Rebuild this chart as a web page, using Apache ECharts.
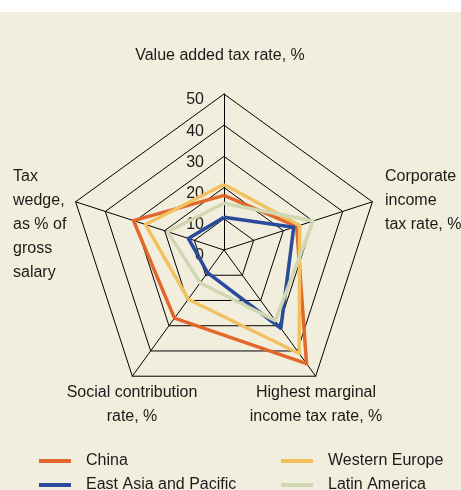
<!DOCTYPE html>
<html>
<head>
<meta charset="utf-8">
<script src="https://cdn.jsdelivr.net/npm/echarts@6/dist/echarts.min.js"></script>
<style>
html, body { margin: 0; padding: 0; background: #fff; }
#container { width: 461px; height: 490px; }
</style>
</head>
<body>
<div id="container"></div>
<script>
// axes go counter-clockwise from the top
var indicatorNames = ['Value added tax rate, %', 'Tax wedge, as % of gross salary', 'Social contribution rate, %', 'Highest marginal income tax rate, %', 'Corporate income tax rate, %'];
var seriesNames = ['China', 'East Asia and Pacific', 'Western Europe', 'Latin America'];
var china = [17.5, 30.5, 27, 45, 24.5];
var eastAsia = [10.5, 12, 9, 31, 23.5];
var westernEurope = [21, 26.5, 19.5, 41, 25.5];
var latinAmerica = [15, 19, 13, 28, 30];
var tickMax = 50;
var tickStep = 10;

var colors = ['#e2672a', '#2a4a9c', '#f2c15f', '#cfd8b2'];
var fontFamily = "'Liberation Sans', Arial, sans-serif";
var fontSize = 16;

var dom = document.getElementById('container');
var myChart = echarts.init(dom);

var values = [china, eastAsia, westernEurope, latinAmerica];

function nameText(x, y, text, align) {
    return {
        type: 'text',
        x: x,
        y: y,
        style: {
            text: text,
            fontFamily: fontFamily,
            fontSize: fontSize,
            lineHeight: 24,
            fill: '#1a1a1a',
            align: align,
            verticalAlign: 'middle'
        }
    };
}

function legendColumn(names, left) {
    return {
        data: names,
        orient: 'vertical',
        left: left,
        top: 451,
        height: 60,
        padding: 0,
        itemGap: 4,
        icon: 'rect',
        itemWidth: 32,
        itemHeight: 4,
        selectedMode: false,
        textStyle: { fontFamily: fontFamily, fontSize: fontSize, color: '#1a1a1a', lineHeight: 20, padding: [0, 0, 0, 10] }
    };
}

var option = {
    backgroundColor: '#f2eedd',
    color: colors,
    graphic: [
        { type: 'rect', shape: { x: 0, y: 0, width: 461, height: 12 }, style: { fill: '#ffffff' }, z: -10 },
        nameText(220, 56, 'Value added tax rate, %', 'center'),
        nameText(385, 201, 'Corporate\nincome\ntax rate, %', 'left'),
        nameText(13, 225, 'Tax\nwedge,\nas % of\ngross\nsalary', 'left'),
        nameText(132, 405, 'Social contribution\nrate, %', 'center'),
        nameText(316, 405, 'Highest marginal\nincome tax rate, %', 'center')
    ],
    legend: [
        legendColumn([seriesNames[0], seriesNames[1]], 39),
        legendColumn([seriesNames[2], seriesNames[3]], 281)
    ],
    radar: {
        center: [224, 250],
        radius: 156,
        startAngle: 90,
        shape: 'polygon',
        splitNumber: tickMax / tickStep,
        indicator: indicatorNames.map(function (n) { return { name: n, min: 0, max: tickMax }; }),
        axisName: { show: false },
        axisLine: { lineStyle: { color: '#000', width: 1 } },
        splitLine: { lineStyle: { color: '#000', width: 1 } },
        splitArea: { show: false },
        axisTick: { show: false },
        axisLabel: { show: false }
    },
    // plain value axis along the top spoke, only for its tick labels
    grid: { left: 224, top: 94, width: 10, height: 156 },
    xAxis: { type: 'value', show: false },
    yAxis: {
        type: 'value',
        min: 0,
        max: tickMax,
        interval: tickStep,
        axisLine: { show: false },
        axisTick: { show: false },
        splitLine: { show: false },
        axisLabel: { margin: 20, fontFamily: fontFamily, fontSize: fontSize, color: '#1a1a1a', verticalAlign: 'top', lineHeight: 12 }
    },
    series: [
        {
            type: 'radar',
            symbol: 'none',
            data: values.map(function (v, i) {
                return { name: seriesNames[i], value: v, lineStyle: { color: colors[i], width: 3.5 }, itemStyle: { color: colors[i] } };
            })
        }
    ]
};

if (option && typeof option === 'object') {
    myChart.setOption(option, true);
}
window.addEventListener('resize', function () {
    myChart.resize();
});
</script>
</body>
</html>
